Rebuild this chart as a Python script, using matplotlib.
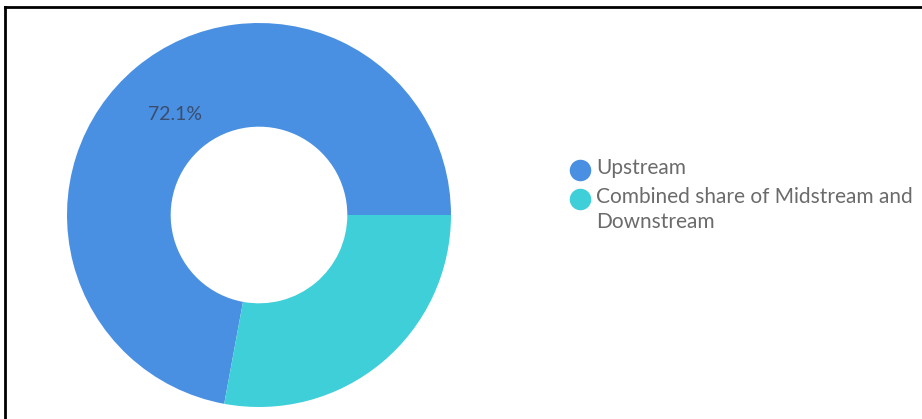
import matplotlib.pyplot as plt
from matplotlib.lines import Line2D

plt.rcParams['font.family'] = ['Lato', 'DejaVu Sans']

labels = ["Upstream", "Combined share of Midstream and\nDownstream"]
shares = [72.1, 27.9]
colors = ["#4a90e2", "#3ecfd9"]

W, H = 922, 419
fig = plt.figure(figsize=(W / 100, H / 100), dpi=100)

# pie axes: center at (259, 215) px, radius 192 px
cx, cy, r = 259, 215, 192
ax = fig.add_axes([(cx - r) / W, (H - cy - r) / H, 2 * r / W, 2 * r / H])

wedges, texts, autotexts = ax.pie(
    shares, colors=colors, startangle=0, counterclock=True,
    radius=1, wedgeprops=dict(width=0.54, linewidth=0),
    autopct=lambda p: f"{p:.1f}%" if p > 50 else "",
    pctdistance=0.68,
    textprops=dict(color="#3a4d6e", fontsize=14))
ax.set_xlim(-1, 1)
ax.set_ylim(-1, 1)
ax.set_aspect("equal")
ax.axis("off")

# legend drawn by hand: circle marker aligned with first line of text
legend_y = [170, 199]
for lab, col, y in zip(labels, colors, legend_y):
    fig.add_artist(Line2D([580 / W], [1 - y / H], marker="o", markersize=15.5,
                          markerfacecolor=col, markeredgewidth=0, linestyle="none"))
    fig.text(596 / W, 1 - (y - 12) / H, lab, ha="left", va="top",
             fontsize=15, color="#6b6b6b", linespacing=1.32)

# frame lines (top and left only)
fig.add_artist(Line2D([5 / W, 1], [1 - 7 / H, 1 - 7 / H], color="black", linewidth=2))
fig.add_artist(Line2D([5 / W, 5 / W], [0, 1 - 7 / H], color="black", linewidth=2))

fig.savefig("out.png", dpi=100, facecolor="white")
